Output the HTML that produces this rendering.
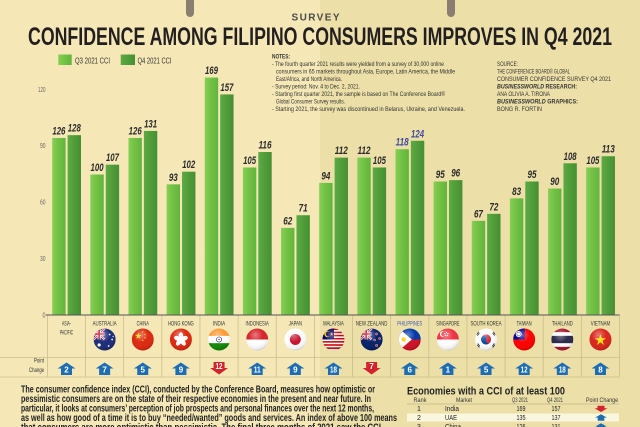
<!DOCTYPE html>
<html><head><meta charset="utf-8"><style>
html,body{margin:0;padding:0;background:#f5e8b6;}
svg{display:block;font-family:"Liberation Sans",sans-serif;}
</style></head><body>
<svg width="640" height="427" viewBox="0 0 640 427" xmlns="http://www.w3.org/2000/svg">
<defs>
<linearGradient id="g3" x1="0" y1="0" x2="1" y2="0"><stop offset="0" stop-color="#86cf55"/><stop offset="0.4" stop-color="#74c347"/><stop offset="1" stop-color="#62b43c"/></linearGradient>
<linearGradient id="g4" x1="0" y1="0" x2="1" y2="0"><stop offset="0" stop-color="#5dab45"/><stop offset="0.4" stop-color="#529f3b"/><stop offset="1" stop-color="#468f33"/></linearGradient>
<radialGradient id="gl" cx="0.42" cy="0.3" r="0.75"><stop offset="0" stop-color="#fff" stop-opacity="0.4"/><stop offset="0.45" stop-color="#fff" stop-opacity="0"/><stop offset="0.85" stop-color="#000" stop-opacity="0.08"/><stop offset="1" stop-color="#000" stop-opacity="0.3"/></radialGradient>
<clipPath id="fc"><circle cx="0" cy="0" r="11"/></clipPath>
<path id="st" d="M0,-1 L0.2245,-0.309 L0.951,-0.309 L0.363,0.118 L0.588,0.809 L0,0.382 L-0.588,0.809 L-0.363,0.118 L-0.951,-0.309 L-0.2245,-0.309Z"/>
</defs>

<!-- background -->
<rect x="0" y="0" width="320" height="427" fill="#f5e8b6"/>
<rect x="320" y="0" width="320" height="427" fill="#ece0a8"/>

<!-- pegs -->
<rect x="186" y="-6" width="8" height="23" rx="4" fill="#8a7e70"/>
<rect x="447" y="-6" width="8" height="23" rx="4" fill="#8a7e70"/>

<!-- title -->
<text x="291.5" y="20.5" font-size="10" font-weight="bold" fill="#4a4a4a" textLength="48" lengthAdjust="spacing">SURVEY</text>
<text x="28" y="45" font-size="25" font-weight="bold" fill="#231f20" textLength="584" lengthAdjust="spacingAndGlyphs">CONFIDENCE AMONG FILIPINO CONSUMERS IMPROVES IN Q4 2021</text>

<!-- legend -->
<rect x="58.3" y="54.5" width="13.4" height="10.5" fill="url(#g3)"/>
<text x="75" y="63.3" font-size="8" fill="#333" textLength="35" lengthAdjust="spacingAndGlyphs">Q3 2021 CCI</text>
<rect x="120.7" y="54.5" width="14.3" height="10.5" fill="url(#g4)"/>
<text x="137.5" y="63.3" font-size="8" fill="#333" textLength="34" lengthAdjust="spacingAndGlyphs">Q4 2021 CCI</text>

<!-- notes -->
<g font-size="6.3" fill="#333">
<text x="272" y="58.7" font-weight="bold" textLength="18" lengthAdjust="spacingAndGlyphs">NOTES:</text>
<text x="272" y="66.2" textLength="172" lengthAdjust="spacingAndGlyphs">- The fourth quarter 2021 results were yielded from a survey of 30,000 online</text>
<text x="276" y="73.7" textLength="179" lengthAdjust="spacingAndGlyphs">consumers in 65 markets throughout Asia, Europe, Latin America, the Middle</text>
<text x="276" y="81.2" textLength="66" lengthAdjust="spacingAndGlyphs">East/Africa, and North America.</text>
<text x="272" y="88.7" textLength="88" lengthAdjust="spacingAndGlyphs">- Survey period: Nov. 4 to Dec. 2, 2021.</text>
<text x="272" y="96.2" textLength="173" lengthAdjust="spacingAndGlyphs">- Starting first quarter 2021, the sample is based on The Conference Board®</text>
<text x="276" y="103.7" textLength="69" lengthAdjust="spacingAndGlyphs">Global Consumer Survey results.</text>
<text x="272" y="111.2" textLength="193" lengthAdjust="spacingAndGlyphs">- Starting 2021, the survey was discontinued in Belarus, Ukraine, and Venezuela.</text>
</g>
<g font-size="6.3" fill="#333">
<text x="497" y="66.2" textLength="21" lengthAdjust="spacingAndGlyphs">SOURCE:</text>
<text x="497" y="73.7" textLength="73" lengthAdjust="spacingAndGlyphs">THE CONFERENCE BOARD® GLOBAL</text>
<text x="497" y="81.2" textLength="114" lengthAdjust="spacingAndGlyphs">CONSUMER CONFIDENCE SURVEY Q4 2021</text>
<text x="497" y="88.7" font-weight="bold" textLength="80" lengthAdjust="spacingAndGlyphs"><tspan font-style="italic">BUSINESSWORLD</tspan> RESEARCH:</text>
<text x="497" y="96.2" textLength="53" lengthAdjust="spacingAndGlyphs">ANA OLIVIA A. TIRONA</text>
<text x="497" y="103.7" font-weight="bold" textLength="81" lengthAdjust="spacingAndGlyphs"><tspan font-style="italic">BUSINESSWORLD</tspan> GRAPHICS:</text>
<text x="497" y="111.2" textLength="45" lengthAdjust="spacingAndGlyphs">BONG R. FORTIN</text>
</g>

<!-- y axis labels -->
<g font-size="7" fill="#666" text-anchor="end">
<text x="45.5" y="92" textLength="7.5" lengthAdjust="spacingAndGlyphs">120</text>
<text x="45.5" y="148" textLength="5.5" lengthAdjust="spacingAndGlyphs">90</text>
<text x="45.5" y="204.5" textLength="5.5" lengthAdjust="spacingAndGlyphs">60</text>
<text x="45.5" y="261" textLength="5.5" lengthAdjust="spacingAndGlyphs">30</text>
<text x="45.5" y="317.5" textLength="3" lengthAdjust="spacingAndGlyphs">0</text>
</g>

<!-- bars -->
<g>
<rect x="52.2" y="137.97" width="13.4" height="177.03" fill="url(#g3)"/><rect x="67.6" y="135.16" width="13.4" height="179.84" fill="url(#g4)"/>
<rect x="90.34" y="174.5" width="13.4" height="140.5" fill="url(#g3)"/><rect x="105.74" y="164.66" width="13.4" height="150.34" fill="url(#g4)"/>
<rect x="128.48" y="137.97" width="13.4" height="177.03" fill="url(#g3)"/><rect x="143.88" y="130.94" width="13.4" height="184.06" fill="url(#g4)"/>
<rect x="166.62" y="184.33" width="13.4" height="130.67" fill="url(#g3)"/><rect x="182.02" y="171.69" width="13.4" height="143.31" fill="url(#g4)"/>
<rect x="204.76" y="77.55" width="13.4" height="237.45" fill="url(#g3)"/><rect x="220.16" y="94.41" width="13.4" height="220.59" fill="url(#g4)"/>
<rect x="242.9" y="167.47" width="13.4" height="147.53" fill="url(#g3)"/><rect x="258.3" y="152.02" width="13.4" height="162.98" fill="url(#g4)"/>
<rect x="281.04" y="227.89" width="13.4" height="87.11" fill="url(#g3)"/><rect x="296.44" y="215.24" width="13.4" height="99.76" fill="url(#g4)"/>
<rect x="319.18" y="182.93" width="13.4" height="132.07" fill="url(#g3)"/><rect x="334.58" y="157.64" width="13.4" height="157.36" fill="url(#g4)"/>
<rect x="357.32" y="157.64" width="13.4" height="157.36" fill="url(#g3)"/><rect x="372.72" y="167.47" width="13.4" height="147.53" fill="url(#g4)"/>
<rect x="395.46" y="149.21" width="13.4" height="165.79" fill="url(#g3)"/><rect x="410.86" y="140.78" width="13.4" height="174.22" fill="url(#g4)"/>
<rect x="433.6" y="181.52" width="13.4" height="133.48" fill="url(#g3)"/><rect x="449.0" y="180.12" width="13.4" height="134.88" fill="url(#g4)"/>
<rect x="471.74" y="220.86" width="13.4" height="94.14" fill="url(#g3)"/><rect x="487.14" y="213.84" width="13.4" height="101.16" fill="url(#g4)"/>
<rect x="509.88" y="198.38" width="13.4" height="116.62" fill="url(#g3)"/><rect x="525.28" y="181.52" width="13.4" height="133.48" fill="url(#g4)"/>
<rect x="548.02" y="188.55" width="13.4" height="126.45" fill="url(#g3)"/><rect x="563.42" y="163.26" width="13.4" height="151.74" fill="url(#g4)"/>
<rect x="586.16" y="167.47" width="13.4" height="147.53" fill="url(#g3)"/><rect x="601.56" y="156.23" width="13.4" height="158.77" fill="url(#g4)"/>
</g>

<!-- value labels -->
<g font-size="11" font-style="italic" font-weight="bold" fill="#2b2b2b" text-anchor="middle" lengthAdjust="spacingAndGlyphs">
<text x="58.9" y="134.5" textLength="13" lengthAdjust="spacingAndGlyphs">126</text><text x="74.3" y="131.7" textLength="13" lengthAdjust="spacingAndGlyphs">128</text>
<text x="97.04" y="171" textLength="13" lengthAdjust="spacingAndGlyphs">100</text><text x="112.44" y="161.2" textLength="13" lengthAdjust="spacingAndGlyphs">107</text>
<text x="135.18" y="134.5" textLength="13" lengthAdjust="spacingAndGlyphs">126</text><text x="150.58" y="127.4" textLength="13" lengthAdjust="spacingAndGlyphs">131</text>
<text x="173.32" y="180.8" textLength="9" lengthAdjust="spacingAndGlyphs">93</text><text x="188.72" y="168.2" textLength="13" lengthAdjust="spacingAndGlyphs">102</text>
<text x="211.46" y="74" textLength="13" lengthAdjust="spacingAndGlyphs">169</text><text x="226.86" y="90.9" textLength="13" lengthAdjust="spacingAndGlyphs">157</text>
<text x="249.6" y="164" textLength="13" lengthAdjust="spacingAndGlyphs">105</text><text x="265" y="148.5" textLength="13" lengthAdjust="spacingAndGlyphs">116</text>
<text x="287.74" y="224.4" textLength="9" lengthAdjust="spacingAndGlyphs">62</text><text x="303.14" y="211.7" textLength="9" lengthAdjust="spacingAndGlyphs">71</text>
<text x="325.88" y="179.4" textLength="9" lengthAdjust="spacingAndGlyphs">94</text><text x="341.28" y="154.1" textLength="13" lengthAdjust="spacingAndGlyphs">112</text>
<text x="364.02" y="154.1" textLength="13" lengthAdjust="spacingAndGlyphs">112</text><text x="379.42" y="164" textLength="13" lengthAdjust="spacingAndGlyphs">105</text>
<text x="402.16" y="145.7" textLength="13" lengthAdjust="spacingAndGlyphs" fill="#3f4aa0">118</text><text x="417.56" y="137.3" textLength="13" lengthAdjust="spacingAndGlyphs" fill="#3f4aa0">124</text>
<text x="440.3" y="178" textLength="9" lengthAdjust="spacingAndGlyphs">95</text><text x="455.7" y="176.6" textLength="9" lengthAdjust="spacingAndGlyphs">96</text>
<text x="478.44" y="217.4" textLength="9" lengthAdjust="spacingAndGlyphs">67</text><text x="493.84" y="210.3" textLength="9" lengthAdjust="spacingAndGlyphs">72</text>
<text x="516.58" y="194.9" textLength="9" lengthAdjust="spacingAndGlyphs">83</text><text x="531.98" y="178" textLength="9" lengthAdjust="spacingAndGlyphs">95</text>
<text x="554.72" y="185" textLength="9" lengthAdjust="spacingAndGlyphs">90</text><text x="570.12" y="159.8" textLength="13" lengthAdjust="spacingAndGlyphs">108</text>
<text x="592.86" y="164" textLength="13" lengthAdjust="spacingAndGlyphs">105</text><text x="608.26" y="152.7" textLength="13" lengthAdjust="spacingAndGlyphs">113</text>
</g>

<!-- grid -->
<g stroke="#cbbd8e" stroke-width="0.8" fill="none">
<path d="M47.4,315V377 M85.54,315V377 M123.68,315V377 M161.82,315V377 M199.96,315V377 M238.1,315V377 M276.24,315V377 M314.38,315V377 M352.52,315V377 M390.66,315V377 M428.8,315V377 M466.94,315V377 M505.08,315V377 M543.22,315V377 M581.36,315V377 M619.5,315V377"/>
<path d="M0,357.5H619.5 M0,377H619.5"/>
</g>
<line x1="46" y1="315" x2="619.5" y2="315" stroke="#555" stroke-width="1"/>

<!-- country labels -->
<g font-size="6.5" fill="#333" text-anchor="middle">
<text x="66.5" y="325.5" textLength="9" lengthAdjust="spacingAndGlyphs">ASIA-</text>
<text x="66.5" y="334.3" textLength="13.3" lengthAdjust="spacingAndGlyphs">PACIFIC</text>
<text x="104.64" y="325.5" textLength="24" lengthAdjust="spacingAndGlyphs">AUSTRALIA</text>
<text x="142.78" y="325.5" textLength="12.3" lengthAdjust="spacingAndGlyphs">CHINA</text>
<text x="180.92" y="325.5" textLength="25.7" lengthAdjust="spacingAndGlyphs">HONG KONG</text>
<text x="219.06" y="325.5" textLength="12.3" lengthAdjust="spacingAndGlyphs">INDIA</text>
<text x="257.2" y="325.5" textLength="23.3" lengthAdjust="spacingAndGlyphs">INDONESIA</text>
<text x="295.34" y="325.5" textLength="13.3" lengthAdjust="spacingAndGlyphs">JAPAN</text>
<text x="333.48" y="325.5" textLength="20.7" lengthAdjust="spacingAndGlyphs">MALAYSIA</text>
<text x="371.62" y="325.5" textLength="31.7" lengthAdjust="spacingAndGlyphs">NEW ZEALAND</text>
<text x="409.76" y="325.5" textLength="25" lengthAdjust="spacingAndGlyphs" fill="#3f5ab0">PHILIPPINES</text>
<text x="447.9" y="325.5" textLength="23.3" lengthAdjust="spacingAndGlyphs">SINGAPORE</text>
<text x="486.04" y="325.5" textLength="31" lengthAdjust="spacingAndGlyphs">SOUTH KOREA</text>
<text x="524.18" y="325.5" textLength="15" lengthAdjust="spacingAndGlyphs">TAIWAN</text>
<text x="562.32" y="325.5" textLength="21" lengthAdjust="spacingAndGlyphs">THAILAND</text>
<text x="600.46" y="325.5" textLength="19.3" lengthAdjust="spacingAndGlyphs">VIETNAM</text>
</g>

<!-- flags -->
<!-- Australia -->
<g transform="translate(104.64,339.5)"><g clip-path="url(#fc)">
<rect x="-11" y="-11" width="22" height="22" fill="#1c2d7a"/>
<path d="M-11,-11 L0,0 M0,-11 L-11,0" stroke="#fff" stroke-width="2.2"/>
<path d="M-11,-11 L0,0 M0,-11 L-11,0" stroke="#c8102e" stroke-width="0.8"/>
<path d="M-5.5,-11 V0 M-11,-5.5 H0" stroke="#fff" stroke-width="3"/>
<path d="M-5.5,-11 V0 M-11,-5.5 H0" stroke="#c8102e" stroke-width="1.6"/>
<g fill="#fff"><circle cx="-5.5" cy="5.5" r="1.6"/><circle cx="5" cy="-5" r="0.9"/><circle cx="7.5" cy="0" r="0.9"/><circle cx="4" cy="6.5" r="0.9"/><circle cx="8.5" cy="-3" r="0.6"/></g>
</g><circle r="11" fill="url(#gl)"/></g>
<!-- China -->
<g transform="translate(142.78,339.5)"><g clip-path="url(#fc)">
<rect x="-11" y="-11" width="22" height="22" fill="#de2910"/>
<g fill="#ffde00"><use href="#st" transform="translate(-4.5,-3.5) scale(3.5)"/><use href="#st" transform="translate(0,-7.5) scale(1.1)"/><use href="#st" transform="translate(2.2,-5) scale(1.1)"/><use href="#st" transform="translate(2.2,-1.8) scale(1.1)"/><use href="#st" transform="translate(0,0.8) scale(1.1)"/></g>
</g><circle r="11" fill="url(#gl)"/></g>
<!-- Hong Kong -->
<g transform="translate(180.92,339.5)"><g clip-path="url(#fc)">
<rect x="-11" y="-11" width="22" height="22" fill="#de2910"/>
<g fill="#fff"><ellipse cx="0" cy="-3.6" rx="2.3" ry="3.6"/><ellipse cx="0" cy="-3.6" rx="2.3" ry="3.6" transform="rotate(72)"/><ellipse cx="0" cy="-3.6" rx="2.3" ry="3.6" transform="rotate(144)"/><ellipse cx="0" cy="-3.6" rx="2.3" ry="3.6" transform="rotate(216)"/><ellipse cx="0" cy="-3.6" rx="2.3" ry="3.6" transform="rotate(288)"/></g>
</g><circle r="11" fill="url(#gl)"/></g>
<!-- India -->
<g transform="translate(219.06,339.5)"><g clip-path="url(#fc)">
<rect x="-11" y="-11" width="22" height="7.4" fill="#ff9933"/>
<rect x="-11" y="-3.6" width="22" height="7.3" fill="#fff"/>
<rect x="-11" y="3.7" width="22" height="7.3" fill="#138808"/>
<circle r="2.6" fill="none" stroke="#000080" stroke-width="0.6"/><circle r="0.6" fill="#000080"/>
</g><circle r="11" fill="url(#gl)"/></g>
<!-- Indonesia -->
<g transform="translate(257.2,339.5)"><g clip-path="url(#fc)">
<rect x="-11" y="-11" width="22" height="11" fill="#d8232a"/>
<rect x="-11" y="0" width="22" height="11" fill="#fff"/>
</g><circle r="11" fill="url(#gl)"/></g>
<!-- Japan -->
<g transform="translate(295.34,339.5)"><g clip-path="url(#fc)">
<rect x="-11" y="-11" width="22" height="22" fill="#fff"/>
<circle r="5.5" fill="#c8102e"/>
</g><circle r="11" fill="url(#gl)"/></g>
<!-- Malaysia -->
<g transform="translate(333.48,339.5)"><g clip-path="url(#fc)">
<rect x="-11" y="-11" width="22" height="22" fill="#fff"/>
<g fill="#cc0001"><rect x="-11" y="-11" width="22" height="1.57"/><rect x="-11" y="-7.86" width="22" height="1.57"/><rect x="-11" y="-4.71" width="22" height="1.57"/><rect x="-11" y="-1.57" width="22" height="1.57"/><rect x="-11" y="1.57" width="22" height="1.57"/><rect x="-11" y="4.71" width="22" height="1.57"/><rect x="-11" y="7.86" width="22" height="1.57"/></g>
<rect x="-11" y="-11" width="11.5" height="11" fill="#010066"/>
<circle cx="-6" cy="-5.5" r="3.2" fill="#fc0"/><circle cx="-5" cy="-5.5" r="2.6" fill="#010066"/>
<use href="#st" transform="translate(-1.8,-5.5) scale(1.8)" fill="#fc0"/>
</g><circle r="11" fill="url(#gl)"/></g>
<!-- New Zealand -->
<g transform="translate(371.62,339.5)"><g clip-path="url(#fc)">
<rect x="-11" y="-11" width="22" height="22" fill="#012169"/>
<path d="M-11,-11 L0,0 M0,-11 L-11,0" stroke="#fff" stroke-width="2.2"/>
<path d="M-11,-11 L0,0 M0,-11 L-11,0" stroke="#c8102e" stroke-width="0.8"/>
<path d="M-5.5,-11 V0 M-11,-5.5 H0" stroke="#fff" stroke-width="3"/>
<path d="M-5.5,-11 V0 M-11,-5.5 H0" stroke="#c8102e" stroke-width="1.6"/>
<g fill="#c8102e" stroke="#fff" stroke-width="0.4"><circle cx="5" cy="-5.5" r="1.1"/><circle cx="8" cy="-1" r="1.1"/><circle cx="3" cy="0.5" r="1"/><circle cx="5" cy="6" r="1.2"/></g>
</g><circle r="11" fill="url(#gl)"/></g>
<!-- Philippines -->
<g transform="translate(409.76,339.5)"><g clip-path="url(#fc)">
<rect x="-11" y="-11" width="22" height="11" fill="#0038a8"/>
<rect x="-11" y="0" width="22" height="11" fill="#ce1126"/>
<path d="M-13,-13 L-13,13 L2,0Z" fill="#fff"/>
<circle cx="-6" cy="0" r="2.2" fill="#fcd116"/>
</g><circle r="11" fill="url(#gl)"/></g>
<!-- Singapore -->
<g transform="translate(447.9,339.5)"><g clip-path="url(#fc)">
<rect x="-11" y="-11" width="22" height="11" fill="#ef3340"/>
<rect x="-11" y="0" width="22" height="11" fill="#fff"/>
<circle cx="-5" cy="-5.5" r="3" fill="#fff"/><circle cx="-4" cy="-5.5" r="2.6" fill="#ef3340"/>
<g fill="#fff"><circle cx="-1.5" cy="-7" r="0.6"/><circle cx="0" cy="-5.8" r="0.6"/><circle cx="-0.5" cy="-4" r="0.6"/><circle cx="-2.5" cy="-4" r="0.6"/><circle cx="-3" cy="-5.8" r="0.6"/></g>
</g><circle r="11" fill="url(#gl)"/></g>
<!-- South Korea -->
<g transform="translate(486.04,339.5)"><g clip-path="url(#fc)">
<rect x="-11" y="-11" width="22" height="22" fill="#fff"/>
<g transform="rotate(30)"><circle r="5" fill="#0047a0"/>
<path d="M-5,0 A5,5 0 0 1 5,0 A2.5,2.5 0 0 1 0,0 A2.5,2.5 0 0 0 -5,0Z" fill="#cd2e3a"/></g>
<g fill="#111"><rect x="-9.5" y="-7" width="3.5" height="0.7" transform="rotate(-55 -7.7 -6)"/><rect x="-9" y="-5.8" width="3.5" height="0.7" transform="rotate(-55 -7.2 -5)"/>
<rect x="6" y="-7" width="3.5" height="0.7" transform="rotate(55 7.7 -6)"/><rect x="5.5" y="-5.8" width="3.5" height="0.7" transform="rotate(55 7.2 -5)"/>
<rect x="-9.5" y="6.3" width="3.5" height="0.7" transform="rotate(55 -7.7 6.6)"/><rect x="-9" y="5.1" width="3.5" height="0.7" transform="rotate(55 -7.2 5.4)"/>
<rect x="6" y="6.3" width="3.5" height="0.7" transform="rotate(-55 7.7 6.6)"/><rect x="5.5" y="5.1" width="3.5" height="0.7" transform="rotate(-55 7.2 5.4)"/></g>
</g><circle r="11" fill="url(#gl)"/></g>
<!-- Taiwan -->
<g transform="translate(524.18,339.5)"><g clip-path="url(#fc)">
<rect x="-11" y="-11" width="22" height="22" fill="#fe0000"/>
<rect x="-11" y="-11" width="11.5" height="11" fill="#000095"/>
<circle cx="-5.5" cy="-5.5" r="3" fill="#fff"/><circle cx="-5.5" cy="-5.5" r="2" fill="#000095"/><circle cx="-5.5" cy="-5.5" r="1.6" fill="#fff"/>
</g><circle r="11" fill="url(#gl)"/></g>
<!-- Thailand -->
<g transform="translate(562.32,339.5)"><g clip-path="url(#fc)">
<rect x="-11" y="-11" width="22" height="22" fill="#fff"/>
<rect x="-11" y="-11" width="22" height="3.67" fill="#a51931"/>
<rect x="-11" y="-3.67" width="22" height="7.34" fill="#2d2a4a"/>
<rect x="-11" y="7.33" width="22" height="3.67" fill="#a51931"/>
</g><circle r="11" fill="url(#gl)"/></g>
<!-- Vietnam -->
<g transform="translate(600.46,339.5)"><g clip-path="url(#fc)">
<rect x="-11" y="-11" width="22" height="22" fill="#da251d"/>
<use href="#st" transform="translate(0,0.6) scale(6)" fill="#ffde00"/>
</g><circle r="11" fill="url(#gl)"/></g>

<!-- Point change label -->
<g font-size="6.5" fill="#333" text-anchor="end">
<text x="44" y="362.5" textLength="10" lengthAdjust="spacingAndGlyphs">Point</text>
<text x="44" y="372" textLength="15" lengthAdjust="spacingAndGlyphs">Change</text>
</g>

<!-- arrows -->
<g fill="#1e6db3">
<path transform="translate(66.5,0)" d="M0,362.5 L9,368.5 L5.5,368.5 L5.5,375 L-5.5,375 L-5.5,368.5 L-9,368.5Z"/>
<path transform="translate(104.64,0)" d="M0,362.5 L9,368.5 L5.5,368.5 L5.5,375 L-5.5,375 L-5.5,368.5 L-9,368.5Z"/>
<path transform="translate(142.78,0)" d="M0,362.5 L9,368.5 L5.5,368.5 L5.5,375 L-5.5,375 L-5.5,368.5 L-9,368.5Z"/>
<path transform="translate(180.92,0)" d="M0,362.5 L9,368.5 L5.5,368.5 L5.5,375 L-5.5,375 L-5.5,368.5 L-9,368.5Z"/>
<path transform="translate(257.2,0)" d="M0,362.5 L9,368.5 L5.5,368.5 L5.5,375 L-5.5,375 L-5.5,368.5 L-9,368.5Z"/>
<path transform="translate(295.34,0)" d="M0,362.5 L9,368.5 L5.5,368.5 L5.5,375 L-5.5,375 L-5.5,368.5 L-9,368.5Z"/>
<path transform="translate(333.48,0)" d="M0,362.5 L9,368.5 L5.5,368.5 L5.5,375 L-5.5,375 L-5.5,368.5 L-9,368.5Z"/>
<path transform="translate(409.76,0)" d="M0,362.5 L9,368.5 L5.5,368.5 L5.5,375 L-5.5,375 L-5.5,368.5 L-9,368.5Z"/>
<path transform="translate(447.9,0)" d="M0,362.5 L9,368.5 L5.5,368.5 L5.5,375 L-5.5,375 L-5.5,368.5 L-9,368.5Z"/>
<path transform="translate(486.04,0)" d="M0,362.5 L9,368.5 L5.5,368.5 L5.5,375 L-5.5,375 L-5.5,368.5 L-9,368.5Z"/>
<path transform="translate(524.18,0)" d="M0,362.5 L9,368.5 L5.5,368.5 L5.5,375 L-5.5,375 L-5.5,368.5 L-9,368.5Z"/>
<path transform="translate(562.32,0)" d="M0,362.5 L9,368.5 L5.5,368.5 L5.5,375 L-5.5,375 L-5.5,368.5 L-9,368.5Z"/>
<path transform="translate(600.46,0)" d="M0,362.5 L9,368.5 L5.5,368.5 L5.5,375 L-5.5,375 L-5.5,368.5 L-9,368.5Z"/>
</g>
<g fill="#d3232b">
<path transform="translate(219.06,0)" d="M-5.5,362 L5.5,362 L5.5,368 L9,368 L0,374.5 L-9,368 L-5.5,368Z"/>
<path transform="translate(371.62,0)" d="M-5.5,362 L5.5,362 L5.5,368 L9,368 L0,374.5 L-9,368 L-5.5,368Z"/>
</g>
<g font-size="8" font-weight="bold" fill="#fff" text-anchor="middle">
<text x="66.5" y="372.5">2</text>
<text x="104.64" y="372.5">7</text>
<text x="142.78" y="372.5">5</text>
<text x="180.92" y="372.5">9</text>
<text x="219.06" y="369" textLength="7" lengthAdjust="spacingAndGlyphs">12</text>
<text x="257.2" y="372.5" textLength="7" lengthAdjust="spacingAndGlyphs">11</text>
<text x="295.34" y="372.5">9</text>
<text x="333.48" y="372.5" textLength="7" lengthAdjust="spacingAndGlyphs">18</text>
<text x="371.62" y="369">7</text>
<text x="409.76" y="372.5">6</text>
<text x="447.9" y="372.5">1</text>
<text x="486.04" y="372.5">5</text>
<text x="524.18" y="372.5" textLength="7" lengthAdjust="spacingAndGlyphs">12</text>
<text x="562.32" y="372.5" textLength="7" lengthAdjust="spacingAndGlyphs">18</text>
<text x="600.46" y="372.5">8</text>
</g>

<!-- paragraph -->
<g font-size="10" font-weight="bold" fill="#222">
<text x="21" y="392.3" textLength="354" lengthAdjust="spacingAndGlyphs">The consumer confidence index (CCI), conducted by the Conference Board, measures how optimistic or</text>
<text x="21" y="401.8" textLength="350" lengthAdjust="spacingAndGlyphs">pessimistic consumers are on the state of their respective economies in the present and near future. In</text>
<text x="21" y="411.3" textLength="353" lengthAdjust="spacingAndGlyphs">particular, it looks at consumers’ perception of job prospects and personal finances over the next 12 months,</text>
<text x="21" y="420.8" textLength="376" lengthAdjust="spacingAndGlyphs">as well as how good of a time it is to buy “needed/wanted” goods and services. An index of above 100 means</text>
<text x="21" y="430.3" textLength="360" lengthAdjust="spacingAndGlyphs">that consumers are more optimistic than pessimistic. The final three months of 2021 saw the CCI</text>
</g>

<!-- table -->
<text x="407" y="394.5" font-size="11" font-weight="bold" fill="#222" textLength="158" lengthAdjust="spacingAndGlyphs">Economies with a CCI of at least 100</text>
<rect x="407" y="413.5" width="212" height="8" fill="#fbf6de"/>
<line x1="407" y1="404" x2="619" y2="404" stroke="#a99d7a" stroke-width="0.6"/>
<g font-size="6.5" fill="#333" text-anchor="middle">
<text x="420" y="402" textLength="13" lengthAdjust="spacingAndGlyphs">Rank</text>
<text x="464" y="402" textLength="16" lengthAdjust="spacingAndGlyphs">Market</text>
<text x="520" y="402" textLength="16" lengthAdjust="spacingAndGlyphs">Q3 2021</text>
<text x="555" y="402" textLength="16" lengthAdjust="spacingAndGlyphs">Q4 2021</text>
<text x="602" y="402" textLength="32" lengthAdjust="spacingAndGlyphs">Point Change</text>
</g>
<g font-size="7" fill="#222">
<text x="419" y="410.8" text-anchor="middle">1</text>
<text x="445" y="410.8" textLength="14" lengthAdjust="spacingAndGlyphs">India</text>
<text x="521" y="410.8" text-anchor="middle" textLength="9" lengthAdjust="spacingAndGlyphs">169</text>
<text x="556" y="410.8" text-anchor="middle" textLength="9" lengthAdjust="spacingAndGlyphs">157</text>
<text x="419" y="419.8" text-anchor="middle">2</text>
<text x="445" y="419.8" textLength="12" lengthAdjust="spacingAndGlyphs">UAE</text>
<text x="521" y="419.8" text-anchor="middle" textLength="9" lengthAdjust="spacingAndGlyphs">135</text>
<text x="556" y="419.8" text-anchor="middle" textLength="9" lengthAdjust="spacingAndGlyphs">137</text>
<text x="419" y="428.8" text-anchor="middle">3</text>
<text x="445" y="428.8" textLength="16" lengthAdjust="spacingAndGlyphs">China</text>
<text x="521" y="428.8" text-anchor="middle" textLength="9" lengthAdjust="spacingAndGlyphs">126</text>
<text x="556" y="428.8" text-anchor="middle" textLength="9" lengthAdjust="spacingAndGlyphs">131</text>
</g>
<path d="M597.5,405.8 H604.5 V408.3 H607.5 L601,412 L594.5,408.3 H597.5Z" fill="#d3232b"/>
<path d="M601,414.3 L607,417.6 H604.3 V420.8 H597.7 V417.6 H595Z" fill="#1e6db3"/>
<path d="M601,423.3 L607,426.6 H604.3 V429.8 H597.7 V426.6 H595Z" fill="#1e6db3"/>
</svg>
</body></html>
